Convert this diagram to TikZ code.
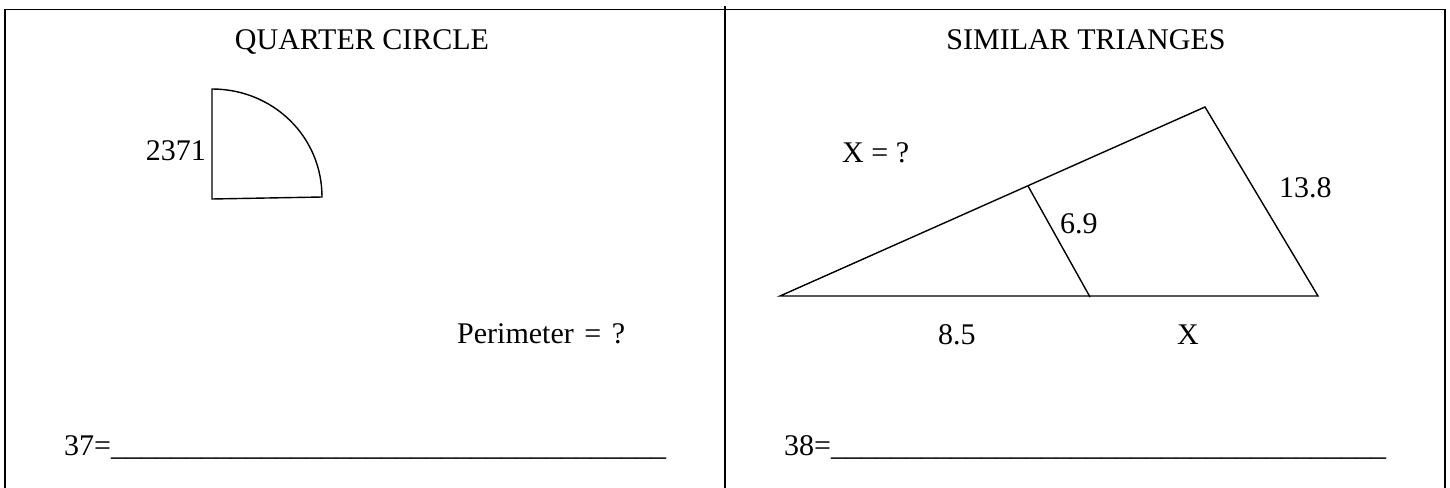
\documentclass[tikz,border=0pt]{standalone}
\usepackage{fontspec}
\setmainfont{Liberation Serif}
\begin{document}
\begin{tikzpicture}[x=1pt,y=-1pt,
  lbl/.style={inner sep=0pt,font=\fontsize{30}{34}\selectfont},
  frame/.style={line width=1.7pt},
  figline/.style={line width=1.4pt,line join=miter}]
\useasboundingbox (0,0) rectangle (1450,487);
% frame
\draw[frame] (5,492) -- (5,9.5) -- (1445,9.5) -- (1445,492);
\draw[frame] (725,6.5) -- (725,492);
% titles
\node[lbl,anchor=base] (t1) at (362,50) {QUARTER CIRCLE};
\node[lbl,anchor=base] (t2) at (1086,50) {SIMILAR TRIANGES};
% quarter circle
\coordinate (qt) at (212,89);
\coordinate (qc) at (212,199);
\coordinate (qr) at (322,197);
\draw[figline] (qt) .. controls (272.75,89) and (322,136.25) .. (qr) -- (qc) -- cycle;
\node[lbl,anchor=base east] (r) at (206,160) {2371};
\node[lbl,anchor=base west] (p) at (457,343) {Perimeter\hspace{3pt} =\hspace{3pt} ?};
% triangles
\coordinate (A) at (780,296);
\coordinate (B) at (1318,296);
\coordinate (C) at (1205,107);
\coordinate (D) at (1028,186);
\coordinate (E) at (1090,297);
\draw[figline] (A) -- (C) -- (B) -- cycle;
\draw[figline] (D) -- (E);
\node[lbl,anchor=base west] (xq) at (842,162) {X = ?};
\node[lbl,anchor=base west] (l138) at (1279,197) {13.8};
\node[lbl,anchor=base west] (l69) at (1060,233) {6.9};
\node[lbl,anchor=base west] (l85) at (938,344) {8.5};
\node[lbl,anchor=base west] (lx) at (1177,344) {X};
% answers
\node[lbl,anchor=base west] (a37) at (64,455) {37=\_\_\_\_\_\_\_\_\_\_\_\_\_\_\_\_\_\_\_\_\_\_\_\_\_\_\_\_\_\_\_\_\_\_\_\_\_};
\node[lbl,anchor=base west] (a38) at (784,455) {38=\_\_\_\_\_\_\_\_\_\_\_\_\_\_\_\_\_\_\_\_\_\_\_\_\_\_\_\_\_\_\_\_\_\_\_\_\_};
\end{tikzpicture}
\end{document}
